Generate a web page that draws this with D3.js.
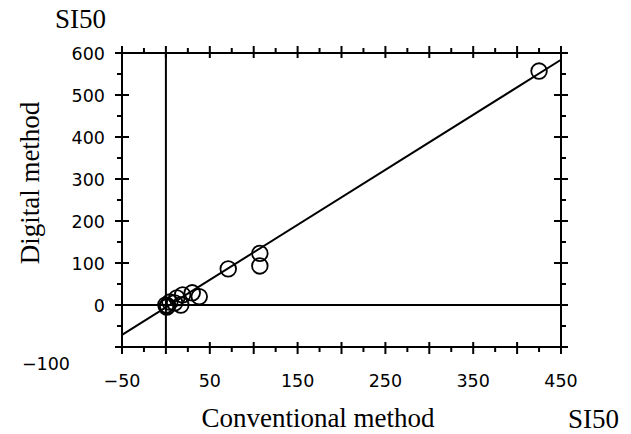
<!DOCTYPE html>
<html>
<head>
<meta charset="utf-8">
<script src="https://cdn.jsdelivr.net/npm/d3@7"></script>
<style>
  body { margin: 0; background: #fff; }
  .tick-label { font-family: "DejaVu Sans", sans-serif; font-size: 17.5px; fill: #000; }
  .title { font-family: "Liberation Serif", "Times New Roman", serif; font-size: 27px; fill: #000; }
</style>
</head>
<body>
<div id="chart"></div>
<script>
// SI50 values, conventional (x) vs digital (y)
var conventional = [425, 71, 107, 107, 38, 30, 19, 17, 12.5, 10, 4.5, 1, 0, 2];
var digital      = [557, 86, 123, 93, 20, 29, 24, 0, 17, 5, 7, -5, 0, -2];
var xTickLabels = [-50, 50, 150, 250, 350, 450];
var yTickLabels = [0, 100, 200, 300, 400, 500, 600];
var fitSlope = 1.31, fitIntercept = -5.6;

var width = 631, height = 434;
var svg = d3.select("#chart").append("svg")
    .attr("width", width).attr("height", height);

var x = d3.scaleLinear().domain([-50, 450]).range([122, 561]);
var y = d3.scaleLinear().domain([-100, 600]).range([347, 53]);

var g = svg.append("g").attr("stroke", "#000").attr("fill", "none");

// frame
g.append("rect")
    .attr("x", x(-50)).attr("y", y(600))
    .attr("width", x(450) - x(-50)).attr("height", y(-100) - y(600))
    .attr("stroke-width", 2);

// zero lines
g.append("line").attr("x1", x(0)).attr("x2", x(0)).attr("y1", y(-100)).attr("y2", y(600)).attr("stroke-width", 2);
g.append("line").attr("x1", x(-50)).attr("x2", x(450)).attr("y1", y(0)).attr("y2", y(0)).attr("stroke-width", 2);

// ticks: x every 25, majors every 50
d3.range(-50, 451, 25).forEach(function(v) {
  var major = v % 50 === 0;
  var len = major ? 7 : 5;
  g.append("line").attr("x1", x(v)).attr("x2", x(v))
    .attr("y1", y(-100) - (major ? 5 : 0)).attr("y2", y(-100) + len).attr("stroke-width", 2);
  g.append("line").attr("x1", x(v)).attr("x2", x(v))
    .attr("y1", y(600) + (major ? 5 : 0)).attr("y2", y(600) - len).attr("stroke-width", 2);
});
// y every 50, majors every 100
d3.range(-100, 601, 50).forEach(function(v) {
  var major = v % 100 === 0;
  var len = major ? 7 : 5;
  g.append("line").attr("y1", y(v)).attr("y2", y(v))
    .attr("x1", x(-50) + (major ? 7 : 0)).attr("x2", x(-50) - len).attr("stroke-width", 2);
  g.append("line").attr("y1", y(v)).attr("y2", y(v))
    .attr("x1", x(450) - (major ? 7 : 0)).attr("x2", x(450) + len).attr("stroke-width", 2);
});

// regression line
g.append("line")
    .attr("x1", x(-50)).attr("y1", y(fitSlope * -50 + fitIntercept))
    .attr("x2", x(450)).attr("y2", y(fitSlope * 450 + fitIntercept))
    .attr("stroke-width", 2);

// points
g.selectAll("circle")
  .data(conventional)
  .enter().append("circle")
    .attr("cx", function(d) { return x(d); })
    .attr("cy", function(d, i) { return y(digital[i]); })
    .attr("r", 7.8)
    .attr("stroke-width", 1.8);

// tick labels
svg.selectAll(".xl").data(xTickLabels).enter().append("text")
    .attr("class", "tick-label")
    .attr("x", function(d) { return x(d); })
    .attr("y", 387)
    .attr("text-anchor", "middle")
    .text(function(d) { return d < 0 ? "\u2212" + Math.abs(d) : d; });

svg.selectAll(".yl").data(yTickLabels).enter().append("text")
    .attr("class", "tick-label")
    .attr("x", 105)
    .attr("y", function(d) { return y(d) + 6.5; })
    .attr("text-anchor", "end")
    .text(function(d) { return d; });

svg.append("text").attr("class", "tick-label")
    .attr("x", 70).attr("y", 370).attr("text-anchor", "end")
    .text("\u2212100");

// titles
svg.append("text").attr("class", "title")
    .attr("x", 55).attr("y", 28).text("SI50");
svg.append("text").attr("class", "title")
    .attr("x", 568).attr("y", 428).text("SI50");
svg.append("text").attr("class", "title")
    .attr("x", 318).attr("y", 427).attr("text-anchor", "middle")
    .text("Conventional method");
svg.append("text").attr("class", "title")
    .attr("transform", "translate(39,183) rotate(-90)")
    .attr("text-anchor", "middle")
    .text("Digital method");
</script>
</body>
</html>
